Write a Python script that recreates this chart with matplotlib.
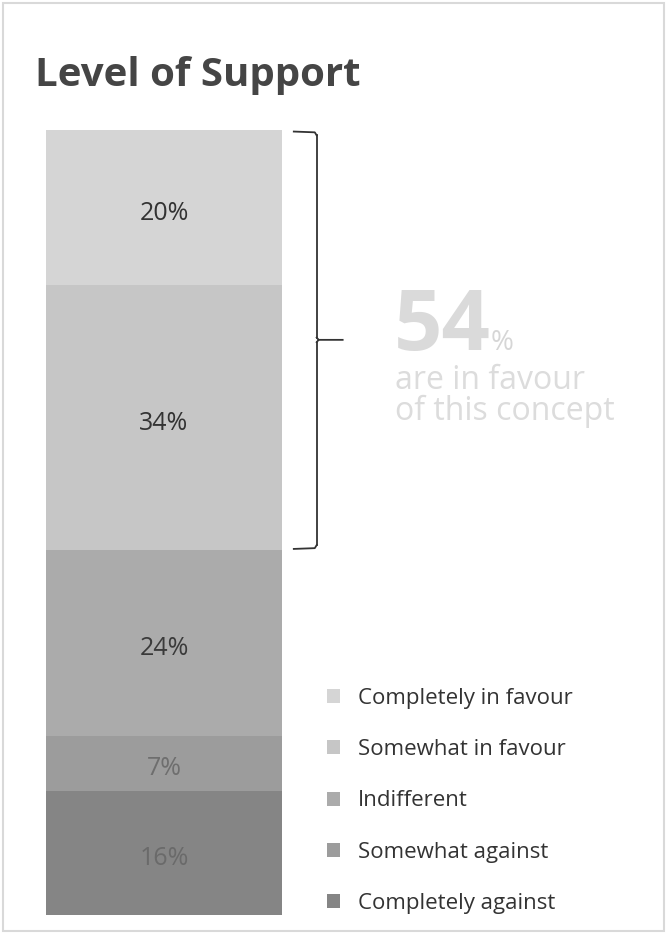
import matplotlib
matplotlib.use("Agg")
import matplotlib.pyplot as plt
from matplotlib.patches import Rectangle
from matplotlib.transforms import blended_transform_factory

# Stack order: bottom to top
categories = ["Completely against", "Somewhat against", "Indifferent",
              "Somewhat in favour", "Completely in favour"]
values = [16, 7, 24, 34, 20]
colors = ["#858585", "#9c9c9c", "#ababab", "#c6c6c6", "#d5d5d5"]
label_colors = ["#6a6a6a", "#6e6e6e", "#3a3a3a", "#333333", "#333333"]
favour_total = 54

W, H = 667, 935
plt.rcParams["font.family"] = ["Open Sans", "DejaVu Sans"]


def fx(x):
    return x / W


def fy(y):
    return 1 - y / H


fig = plt.figure(figsize=(W / 100, H / 100), dpi=100)
fig.patch.set_facecolor("white")

# light frame around the slide
fig.patches.append(Rectangle((fx(3), fy(931)), fx(661), 928 / H, transform=fig.transFigure,
                             fill=False, edgecolor="#d9d9d9", linewidth=1.5))

fig.text(fx(35), fy(86), "Level of Support", fontsize=29, fontweight="bold",
         color="#454545", ha="left", va="baseline")

# stacked bar
bar_left, bar_right, bar_top, bar_bottom = 46, 282, 130, 915
ax = fig.add_axes([fx(bar_left), fy(bar_bottom), (bar_right - bar_left) / W,
                   (bar_bottom - bar_top) / H])
total = sum(values)
bottom = 0
bars = []
for cat, v, c, lc in zip(categories, values, colors, label_colors):
    b = ax.bar(0, v, width=1, bottom=bottom, color=c, label=cat, linewidth=0)
    bars.append(b)
    ax.annotate(f"{v}%", (0, bottom + v / 2), xytext=(0, -4), textcoords="offset points",
                ha="center", va="center", fontsize=18, color=lc)
    bottom += v
ax.set_xlim(-0.5, 0.5)
ax.set_ylim(0, total)
ax.axis("off")

# brace over the "in favour" segments
tr = blended_transform_factory(ax.transAxes, ax.transData)
fav_low = total - values[-1] - values[-2]
fav_high = total
mid = (fav_low + fav_high) / 2
xr = 1.147
kw = dict(transform=tr, color="#333333", linewidth=1.3, clip_on=False)
ax.plot([1.05, xr - 0.008, xr], [fav_high - 0.2, fav_high - 0.3, fav_high - 0.7], **kw)
ax.plot([xr, xr], [fav_high - 0.7, mid + 0.3], **kw)
ax.plot([xr, xr + 0.008, xr + 0.11], [mid + 0.3, mid, mid], **kw)
ax.plot([xr + 0.008, xr], [mid, mid - 0.3], **kw)
ax.plot([xr, xr], [mid - 0.3, fav_low + 0.6], **kw)
ax.plot([xr, xr - 0.008, 1.05], [fav_low + 0.6, fav_low + 0.2, fav_low + 0.1], **kw)

# callout
fig.text(fx(394), fy(350), f"{favour_total}", fontsize=61, fontweight="bold",
         color="#dadada", ha="left", va="baseline")
fig.text(fx(491), fy(350), "%", fontsize=20, color="#d6d6d6", ha="left", va="baseline")
fig.text(fx(395), fy(389), "are in favour", fontsize=23, color="#dcdcdc",
         ha="left", va="baseline")
fig.text(fx(395), fy(420), "of this concept", fontsize=23, color="#dcdcdc",
         ha="left", va="baseline")

# legend (top to bottom reversed from stack)
handles = bars[::-1]
labels = categories[::-1]
fig.legend(handles, labels, loc="upper left", bbox_to_anchor=(fx(327), fy(688)),
           frameon=False, fontsize=16, labelcolor="#333333", handlelength=0.6,
           handleheight=0.6, handletextpad=0.8, labelspacing=1.36,
           borderpad=0, borderaxespad=0)

fig.savefig("out.png", dpi=100, facecolor="white")
